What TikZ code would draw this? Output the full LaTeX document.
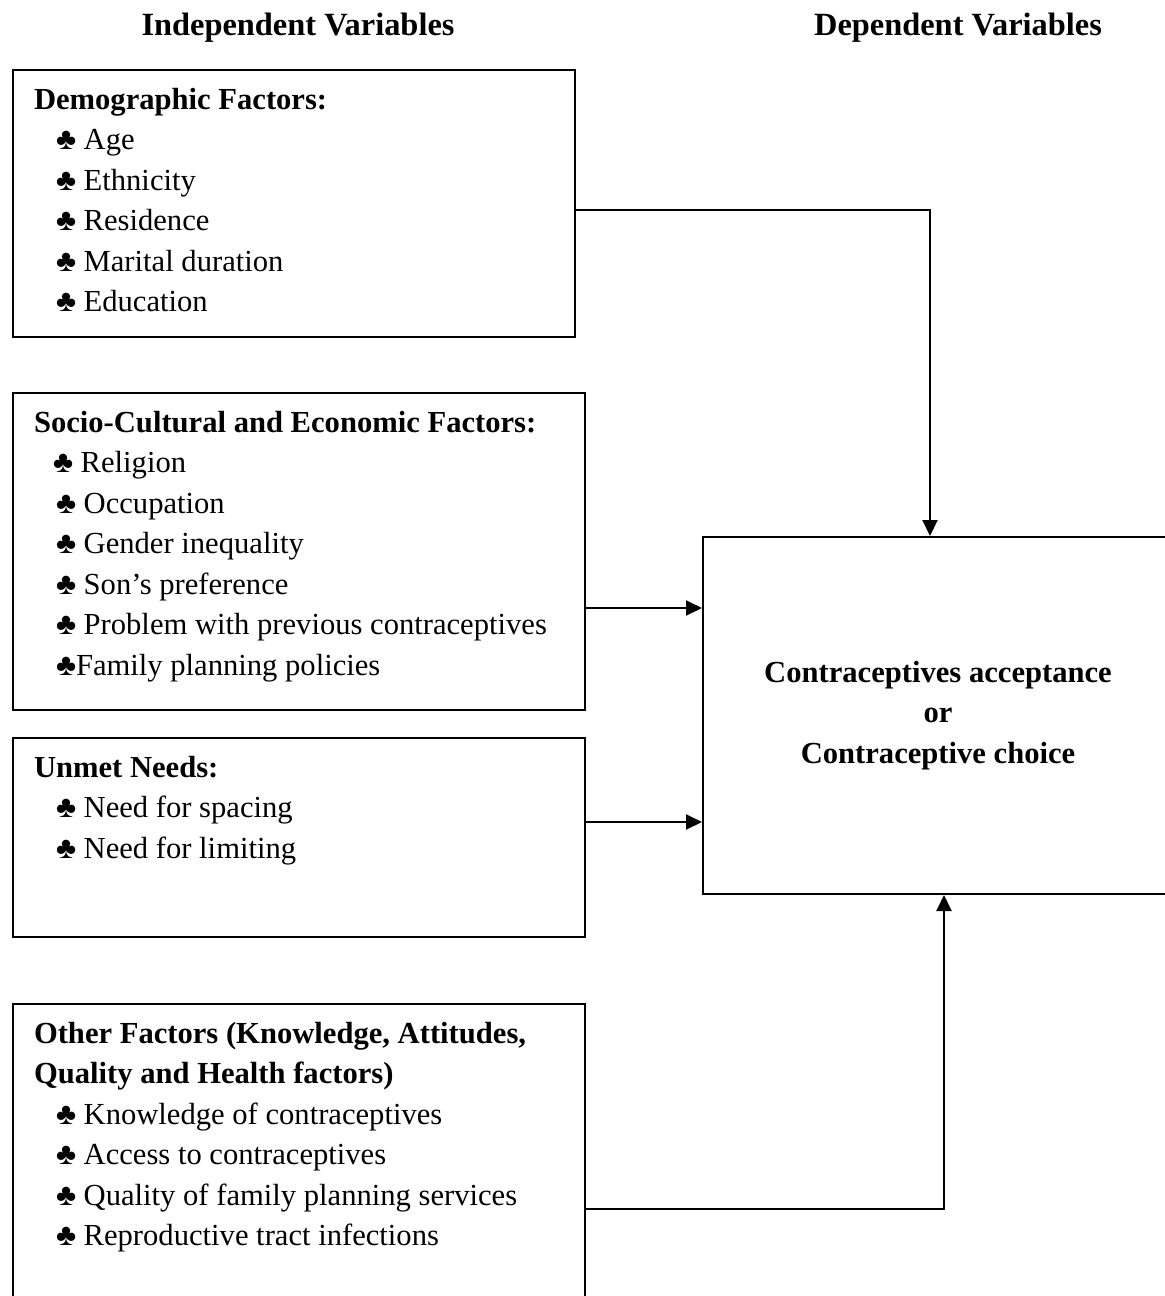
\documentclass[tikz,border=0pt]{standalone}
\usepackage{fontspec}
\setmainfont{Liberation Serif}
\usetikzlibrary{arrows.meta, positioning, calc}

\newcommand{\diagfont}{\fontsize{15.3}{20.25}\selectfont}
\newcommand{\fitem}[1]{\hspace*{11pt}♣ #1\par}

\begin{document}
\begin{tikzpicture}[x=0.5pt, y=-0.5pt,
        factor/.style={draw, line width=1pt, anchor=north west, inner xsep=10.5pt, inner ysep=9pt, font=\diagfont},
        outcome/.style={draw, line width=1pt, anchor=north west, minimum width=235pt, minimum height=178.5pt, align=center, font=\diagfont\bfseries},
        heading/.style={font=\fontsize{16.2}{20.25}\selectfont\bfseries},
        line/.style={draw, line width=1pt, -{Triangle[length=8pt, width=7.5pt]}}]

        \useasboundingbox (0,0) rectangle (1164,1296);

        % Headings
        \node [heading] (indephead) at (298,28) {Independent Variables};
        \node [heading] (dephead) at (958,28) {Dependent Variables};

        % Independent variables
        \node [factor] (demo) at (12,69) {\parbox[t][115.5pt][t]{260pt}{%
            \textbf{Demographic Factors:}\par
            \fitem{Age}
            \fitem{Ethnicity}
            \fitem{Residence}
            \fitem{Marital duration}
            \fitem{Education}}};

        \node [factor] (socio) at (12,392) {\parbox[t][140.5pt][t]{265pt}{%
            \textbf{Socio-Cultural and Economic Factors:}\par
            \hspace*{9.5pt}♣ Religion\par
            \fitem{Occupation}
            \fitem{Gender inequality}
            \fitem{Son’s preference}
            \fitem{Problem with previous contraceptives}
            \hspace*{11pt}♣Family planning policies}};

        \node [factor] (unmet) at (12,737) {\parbox[t][81.5pt][t]{265pt}{%
            \textbf{Unmet Needs:}\par
            \fitem{Need for spacing}
            \fitem{Need for limiting}}};

        \node [factor] (other) at (12,1003) {\parbox[t][187pt][t]{265pt}{%
            \textbf{Other Factors (Knowledge, Attitudes,}\par
            \textbf{Quality and Health factors)}\par
            \fitem{Knowledge of contraceptives}
            \fitem{Access to contraceptives}
            \fitem{Quality of family planning services}
            \fitem{Reproductive tract infections}}};

        % Dependent variable
        \node [outcome] (choice) at (702,536) {Contraceptives acceptance\\ or\\ Contraceptive choice};

        % Paths
        \path [line] ($(demo.east)+(0,6.5)$) -| ($(choice.north)+(-8,0)$);
        \path [line] ($(socio.east)+(0,56.5)$) -- ($(socio.east -| choice.west)+(0,56.5)$);
        \path [line] ($(unmet.east)+(0,-15.5)$) -- ($(unmet.east -| choice.west)+(0,-15.5)$);
        \path [line] (other.east) -| ($(choice.south)+(6,0)$);

    \end{tikzpicture}
\end{document}
